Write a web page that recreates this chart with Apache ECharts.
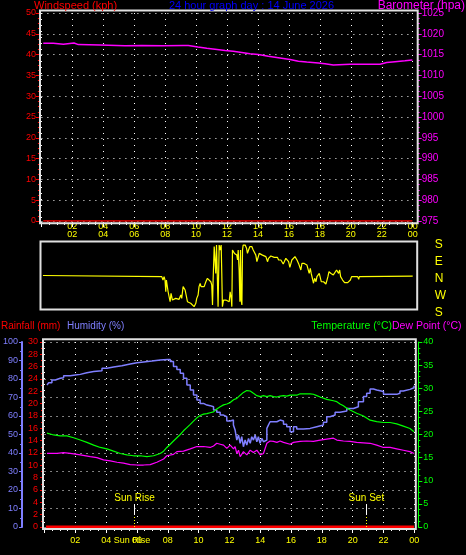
<!DOCTYPE html>
<html><head><meta charset="utf-8">
<script src="https://cdn.jsdelivr.net/npm/echarts@6/dist/echarts.min.js"></script>
<style>html,body{margin:0;padding:0;background:#000;}#c{width:466px;height:555px;}</style>
</head><body><div id="c"></div>
<script>
// ---------- data ----------
const hourLabels = ['00','02','04','06','08','10','12','14','16','18','20','22','00'];
const dirLabels = {'-180':'S','-90':'W','0':'N','90':'E','180':'S'};
const windspeed = [[0.12,0],[23.98,0]];
const barometer = [[0.12,1017.7],[0.77,1017.5],[1.42,1017.8],[2.11,1017.4],[2.39,1017.3],[3.79,1017.1],[5.40,1017.2],[6.48,1017.1],[7.88,1017.2],[9.17,1017.2],[9.50,1016.8],[10.12,1016.5],[10.69,1016.3],[11.22,1016.0],[11.87,1015.8],[12.40,1015.5],[12.95,1015.2],[13.48,1015.0],[14.02,1014.6],[14.67,1014.2],[15.42,1013.8],[16.07,1013.4],[16.61,1013.2],[17.15,1013.0],[17.90,1012.8],[18.33,1012.5],[18.87,1012.7],[19.95,1012.7],[21.56,1012.7],[21.89,1013.1],[22.32,1013.3],[22.86,1013.5],[23.50,1013.7],[23.98,1013.6]];
const windDir = [[0.1,0],[7.78,-6],[7.82,-6],[7.86,-24],[7.93,-6],[7.99,-24],[8.04,-86],[8.08,-24],[8.14,-33],[8.19,-86],[8.25,-94],[8.32,-139],[8.38,-94],[8.47,-130],[8.58,-135],[8.68,-121],[8.79,-112],[8.90,-126],[9.01,-103],[9.07,-121],[9.16,-59],[9.22,-50],[9.29,-77],[9.37,-109],[9.44,-139],[9.55,-139],[9.65,-147],[9.76,-139],[9.87,-165],[9.94,-174],[9.98,-147],[10.04,-121],[10.13,-103],[10.19,-59],[10.26,-42],[10.32,-59],[10.41,-50],[10.52,-59],[10.63,-33],[10.73,-15],[10.80,-6],[10.84,-15],[10.95,-33],[11.01,-50],[11.06,-156],[11.10,-24],[11.17,153],[11.23,144],[11.27,11],[11.32,161],[11.38,153],[11.42,-165],[11.49,161],[11.55,135],[11.62,161],[11.66,11],[11.70,-165],[11.77,-130],[11.83,-139],[11.92,-130],[12.03,-121],[12.14,-139],[12.20,-86],[12.27,-121],[12.31,-165],[12.35,135],[12.42,126],[12.48,117],[12.57,126],[12.63,108],[12.68,82],[12.72,135],[12.78,29],[12.83,-139],[12.87,135],[12.91,-130],[12.96,-156],[13.00,135],[13.04,161],[13.11,153],[13.17,161],[13.26,144],[13.32,117],[13.39,135],[13.47,153],[13.54,161],[13.60,153],[13.69,135],[13.75,126],[13.86,108],[13.93,73],[14.08,117],[14.19,114],[14.29,108],[14.40,100],[14.51,100],[14.62,73],[14.68,91],[14.77,100],[14.83,103],[14.94,100],[15.05,96],[15.16,91],[15.26,96],[15.33,82],[15.42,91],[15.48,82],[15.55,73],[15.63,61],[15.70,73],[15.80,91],[15.91,82],[15.98,73],[16.06,43],[16.13,64],[16.19,82],[16.24,91],[16.30,82],[16.39,100],[16.45,108],[16.52,82],[16.56,91],[16.62,64],[16.71,73],[16.77,29],[16.84,64],[16.93,73],[16.99,64],[17.10,68],[17.16,56],[17.23,47],[17.31,11],[17.38,38],[17.44,11],[17.53,11],[17.59,-41],[17.66,-15],[17.75,-33],[17.81,-6],[17.87,-15],[17.96,11],[18.03,3],[18.09,-33],[18.18,-41],[18.24,-33],[18.31,-41],[18.39,-45],[18.46,-24],[18.52,-6],[18.59,20],[18.65,29],[18.72,11],[18.78,20],[18.87,3],[18.93,11],[18.99,-6],[19.08,29],[19.15,38],[19.21,11],[19.28,29],[19.34,-6],[19.41,3],[19.47,-24],[19.54,-33],[19.60,-38],[19.69,-38],[19.80,-38],[19.90,-33],[19.97,-24],[20.05,-6],[20.12,-6],[20.23,-6],[20.33,-6],[20.44,-6],[20.51,-20],[20.55,-6],[20.66,-3],[24.0,-3]];
const rainfall = [[0.1,0],[23.98,0]];
const humidity = [[0.16,76.8],[0.27,78.0],[0.48,79.5],[0.70,80.4],[1.02,80.7],[1.24,81.8],[1.67,82.2],[2.0,82.5],[2.32,83.4],[2.75,84.0],[3.19,84.5],[3.73,85.8],[4.05,86.5],[4.48,87.2],[5.02,88.1],[5.56,88.8],[6.0,89.2],[6.43,89.7],[6.97,90.3],[7.51,90.6],[7.99,90.6],[8.16,89.4],[8.37,86.7],[8.59,85.2],[8.81,83.1],[9.02,80.4],[9.24,76.8],[9.46,74.1],[9.67,71.4],[9.89,68.6],[10.10,66.8],[10.32,65.9],[10.54,65.6],[10.75,65.0],[10.97,63.2],[11.18,62.0],[11.40,60.5],[11.62,59.6],[11.83,57.3],[12.05,57.8],[12.26,55.1],[12.37,52.4],[12.48,47.0],[12.59,49.7],[12.70,45.2],[12.80,48.8],[12.91,43.4],[13.02,47.0],[13.13,44.3],[13.24,47.9],[13.35,45.2],[13.45,48.8],[13.56,47.0],[13.67,49.7],[13.78,46.1],[13.88,48.8],[13.99,45.2],[14.10,47.9],[14.21,46.1],[14.32,47.0],[14.43,53.3],[14.53,55.1],[14.64,56.9],[14.86,56.9],[15.08,57.8],[15.29,57.3],[15.51,55.5],[15.72,54.2],[15.94,51.5],[16.16,54.2],[16.37,53.0],[16.81,53.3],[17.24,54.2],[17.67,55.1],[18.10,56.6],[18.32,59.6],[18.53,60.5],[18.86,62.0],[19.18,62.7],[19.62,64.1],[20.05,65.0],[20.37,67.7],[20.70,70.5],[20.91,72.3],[21.13,74.6],[21.35,74.1],[21.56,73.2],[22.0,71.7],[22.43,71.7],[22.86,72.3],[23.07,73.5],[23.29,74.4],[23.72,75.3],[23.98,76.4]];
const temperature = [[0.16,20.3],[0.59,19.9],[1.02,19.7],[1.46,19.7],[1.89,19.3],[2.32,18.8],[2.75,18.3],[3.19,17.7],[3.62,17.2],[4.05,16.9],[4.48,16.4],[4.92,15.9],[5.35,15.6],[5.78,15.4],[6.21,15.4],[6.65,15.2],[7.08,15.4],[7.51,15.9],[7.73,16.4],[7.94,17.2],[8.16,17.9],[8.37,18.6],[8.59,19.3],[8.81,20.0],[9.02,20.8],[9.24,21.5],[9.46,22.2],[9.67,22.9],[9.89,23.6],[10.10,24.1],[10.32,24.4],[10.54,24.5],[10.75,24.7],[10.97,24.9],[11.18,25.5],[11.40,26.0],[11.62,26.4],[11.83,26.6],[12.05,26.9],[12.27,27.5],[12.48,27.8],[12.70,28.5],[12.91,29.1],[13.13,29.5],[13.24,29.8],[13.35,29.4],[13.56,28.9],[13.78,28.4],[14.0,28.2],[14.21,28.4],[14.43,28.2],[14.64,28.4],[14.86,28.2],[15.08,28.1],[15.29,28.3],[15.51,28.4],[15.72,28.3],[15.94,28.5],[16.16,28.5],[16.37,28.5],[16.59,28.8],[16.81,28.8],[17.24,28.8],[17.45,28.7],[17.67,28.4],[17.89,28.1],[18.32,27.6],[18.75,27.3],[18.97,27.1],[19.18,26.6],[19.40,26.2],[19.62,25.7],[19.83,25.3],[20.26,24.6],[20.70,24.0],[21.13,23.1],[21.56,22.8],[22.0,22.6],[22.43,22.6],[22.86,22.3],[23.29,21.8],[23.72,21.3],[23.98,20.6]];
const dewPoint = [[0.16,15.9],[0.81,15.9],[1.24,16.1],[1.67,15.9],[2.32,15.6],[2.97,15.2],[3.40,15.0],[3.83,14.5],[4.27,14.3],[4.70,14.0],[5.13,13.8],[5.56,13.5],[6.0,13.4],[6.43,13.4],[6.86,13.5],[7.29,14.0],[7.73,14.7],[7.94,15.4],[8.37,15.7],[8.59,16.3],[9.02,16.4],[9.46,16.9],[9.89,17.4],[10.32,17.4],[10.75,17.2],[10.97,17.5],[11.18,18.1],[11.40,17.9],[11.62,17.7],[11.83,17.0],[12.05,17.7],[12.27,16.9],[12.37,17.4],[12.48,15.9],[12.59,16.6],[12.70,15.2],[12.91,16.3],[13.13,15.6],[13.35,16.6],[13.56,16.1],[13.78,16.6],[14.0,15.6],[14.21,15.9],[14.43,18.1],[14.64,18.6],[14.86,18.5],[15.08,18.3],[15.29,18.6],[15.51,18.3],[15.94,17.9],[16.16,18.3],[16.59,18.5],[17.02,18.6],[17.45,18.5],[17.89,18.8],[18.32,19.0],[18.75,19.2],[18.97,18.8],[19.40,18.6],[19.83,18.5],[20.26,18.3],[20.70,18.2],[21.13,18.1],[21.56,17.7],[22.0,17.2],[22.43,17.2],[22.86,16.9],[23.29,16.6],[23.72,16.3],[23.98,15.9]];
const sunEvents = [5.84, 20.89];
const sunNames = ['Sun Rise', 'Sun Set'];

// ---------- chart ----------
const FONT = 'Liberation Sans';
const dotted = {color:'#ffffff', width:1, type:[1,5]};
const hourFmt = v => hourLabels[Math.round(v/2)];
const plain = v => String(v);
function xAx(gi, extra){
  return Object.assign({type:'value', gridIndex:gi, min:0, max:24, interval:2,
    axisLine:{show:false, onZero:false}, splitLine:{show:true, lineStyle:dotted}}, extra);
}
const chart = echarts.init(document.getElementById('c'), null, {renderer:'canvas'});
const sunLines = [];
sunEvents.forEach((t,i)=>{
  sunLines.push([{coord:[t,0], lineStyle:{color:'#ffff00', type:[1,2], width:1}},{coord:[t,6.5]}]);
  sunLines.push([{coord:[t,6.5], lineStyle:{color:'#ffffff', type:'solid', width:1},
    label:{show:true, position:'end', distance:1, formatter:sunNames[i], color:'#ffff00', fontSize:10, fontFamily:FONT}},{coord:[t,12.4]}]);
});
chart.setOption({
  backgroundColor:'#000000',
  animation:false,
  grid:[
    {left:41.4, top:13, width:371.3, height:208},
    {left:41.4, top:241.5, width:371.3, height:68},
    {left:44.2, top:342, width:370.1, height:185}
  ],
  xAxis:[
    xAx(0,{position:'bottom', offset:1, axisTick:{show:true, length:5, lineStyle:{color:'#ffffff'}},
      minorTick:{show:true, splitNumber:4, length:3, lineStyle:{color:'#ffffff'}},
      axisLabel:{color:'#ffff00', fontSize:9, fontFamily:FONT, showMinLabel:false, formatter:hourFmt, margin:0}}),
    xAx(1,{position:'top', axisTick:{show:false}, splitLine:{show:false},
      axisLabel:{color:'#ffff00', fontSize:9, fontFamily:FONT, showMinLabel:false, formatter:hourFmt, margin:2}}),
    xAx(2,{position:'bottom', offset:2, axisTick:{show:true, length:4, lineStyle:{color:'#ffffff'}},
      minorTick:{show:true, splitNumber:4, length:2, lineStyle:{color:'#ffffff'}},
      axisLabel:{color:'#ffff00', fontSize:9, fontFamily:FONT, showMinLabel:false, formatter:hourFmt, margin:7}})
  ],
  yAxis:[
    {type:'value', gridIndex:0, position:'left', offset:1.5, min:0, max:50, interval:5,
      axisLine:{show:false, onZero:false}, axisTick:{show:true, length:4, lineStyle:{color:'#ff0000'}},
      minorTick:{show:true, splitNumber:4, length:2, lineStyle:{color:'#ff0000'}},
      splitLine:{show:true, lineStyle:dotted},
      axisLabel:{color:'#ff0000', fontSize:9, fontFamily:FONT, margin:4, formatter:plain}},
    {type:'value', gridIndex:0, position:'right', offset:5, min:975, max:1025, interval:5,
      axisLine:{show:false, onZero:false}, axisTick:{show:true, length:4, lineStyle:{color:'#ff00ff'}},
      minorTick:{show:true, splitNumber:4, length:2, lineStyle:{color:'#ff00ff'}},
      splitLine:{show:false},
      axisLabel:{color:'#ff00ff', fontSize:10, fontFamily:FONT, margin:4, formatter:plain}},
    {type:'value', gridIndex:1, position:'right', min:-180, max:180, interval:90,
      axisLine:{show:false, onZero:false}, axisTick:{show:false}, splitLine:{show:false},
      axisLabel:{color:'#ffff00', fontSize:12, fontFamily:FONT, margin:22, verticalAlign:'top', lineHeight:7,
        formatter: v => dirLabels[String(v)]}},
    {type:'value', gridIndex:2, position:'left', offset:22.5, min:0, max:100, interval:10,
      axisLine:{show:true, onZero:false, lineStyle:{color:'#7f7fff', width:2}},
      axisTick:{show:true, length:3, lineStyle:{color:'#7f7fff'}},
      minorTick:{show:true, splitNumber:2, length:2, lineStyle:{color:'#7f7fff'}},
      splitLine:{show:true, lineStyle:dotted},
      axisLabel:{color:'#7f7fff', fontSize:9, fontFamily:FONT, margin:4, formatter:plain}},
    {type:'value', gridIndex:2, position:'left', offset:1.5, min:0, max:30, interval:2,
      axisLine:{show:false, onZero:false}, axisTick:{show:true, length:3, lineStyle:{color:'#ff0000'}},
      minorTick:{show:true, splitNumber:2, length:2, lineStyle:{color:'#ff0000'}},
      splitLine:{show:false},
      axisLabel:{color:'#ff0000', fontSize:9, fontFamily:FONT, margin:5, formatter:plain}},
    {type:'value', gridIndex:2, position:'right', offset:4, min:0, max:40, interval:5,
      axisLine:{show:true, onZero:false, lineStyle:{color:'#00ff00', width:1}},
      axisTick:{show:true, length:4, lineStyle:{color:'#00ff00'}},
      minorTick:{show:true, splitNumber:4, length:2, lineStyle:{color:'#00ff00'}},
      splitLine:{show:false},
      axisLabel:{color:'#00ff00', fontSize:9, fontFamily:FONT, margin:5, formatter:plain}}
  ],
  series:[
    {name:'Windspeed', type:'line', xAxisIndex:0, yAxisIndex:0, data:windspeed, showSymbol:false,
      lineStyle:{color:'#ff0000', width:1.5}, z:3},
    {name:'Barometer', type:'line', xAxisIndex:0, yAxisIndex:1, data:barometer, showSymbol:false, step:'end',
      lineStyle:{color:'#ff00ff', width:1.5}, z:3},
    {name:'Direction', type:'line', xAxisIndex:1, yAxisIndex:2, data:windDir, showSymbol:false,
      lineStyle:{color:'#ffff00', width:1.2}, z:3},
    {name:'Rainfall', type:'line', xAxisIndex:2, yAxisIndex:4, data:rainfall, showSymbol:false,
      lineStyle:{color:'#ff0000', width:3}, z:3},
    {name:'Humidity', type:'line', xAxisIndex:2, yAxisIndex:3, data:humidity, showSymbol:false, step:'end',
      lineStyle:{color:'#7f7fff', width:1.5}, z:3,
      markLine:{silent:true, symbol:['none','none'], data:sunLines}},
    {name:'Temperature', type:'line', xAxisIndex:2, yAxisIndex:5, data:temperature, showSymbol:false,
      lineStyle:{color:'#00ff00', width:1.2}, z:3},
    {name:'Dew Point', type:'line', xAxisIndex:2, yAxisIndex:5, data:dewPoint, showSymbol:false,
      lineStyle:{color:'#ff00ff', width:1.2}, z:3}
  ],
  graphic:[
    {type:'rect', z:100, shape:{x:40, y:10.5, width:377.7, height:212.8}, style:{fill:null, stroke:'#e0e0e0', lineWidth:2}},
    {type:'rect', z:100, shape:{x:40.5, y:241.5, width:376.7, height:68}, style:{fill:null, stroke:'#e0e0e0', lineWidth:2}},
    {type:'rect', z:100, shape:{x:43, y:339.3, width:372.8, height:189.7}, style:{fill:null, stroke:'#e0e0e0', lineWidth:2}},
    {type:'text', z:100, x:34, y:6, style:{text:'Windspeed (kph)', fill:'#ff0000', font:'11px '+FONT, textAlign:'left', textVerticalAlign:'middle'}},
    {type:'text', z:100, x:251.5, y:6, style:{text:'24 hour graph day : 14 June 2026', fill:'#0000ff', font:'11px '+FONT, textAlign:'center', textVerticalAlign:'middle'}},
    {type:'text', z:100, x:465, y:6, style:{text:'Barometer (hpa)', fill:'#ff00ff', font:'12px '+FONT, textAlign:'right', textVerticalAlign:'middle'}},
    {type:'text', z:100, x:1, y:326.5, style:{text:'Rainfall (mm)', fill:'#ff0000', font:'10px '+FONT, textAlign:'left', textVerticalAlign:'middle'}},
    {type:'text', z:100, x:67, y:326.5, style:{text:'Humidity (%)', fill:'#7f7fff', font:'10px '+FONT, textAlign:'left', textVerticalAlign:'middle'}},
    {type:'text', z:100, x:392, y:326.5, style:{text:'Temperature (°C)', fill:'#00ff00', font:'10.5px '+FONT, textAlign:'right', textVerticalAlign:'middle'}},
    {type:'text', z:100, x:392, y:326.5, style:{text:'Dew Point (°C)', fill:'#ff00ff', font:'10.5px '+FONT, textAlign:'left', textVerticalAlign:'middle'}},
    {type:'text', z:100, x:132, y:541, style:{text:'Sun Rise', fill:'#ffff00', font:'9px '+FONT, textAlign:'center', textVerticalAlign:'middle'}}
  ]
});
</script></body></html>
